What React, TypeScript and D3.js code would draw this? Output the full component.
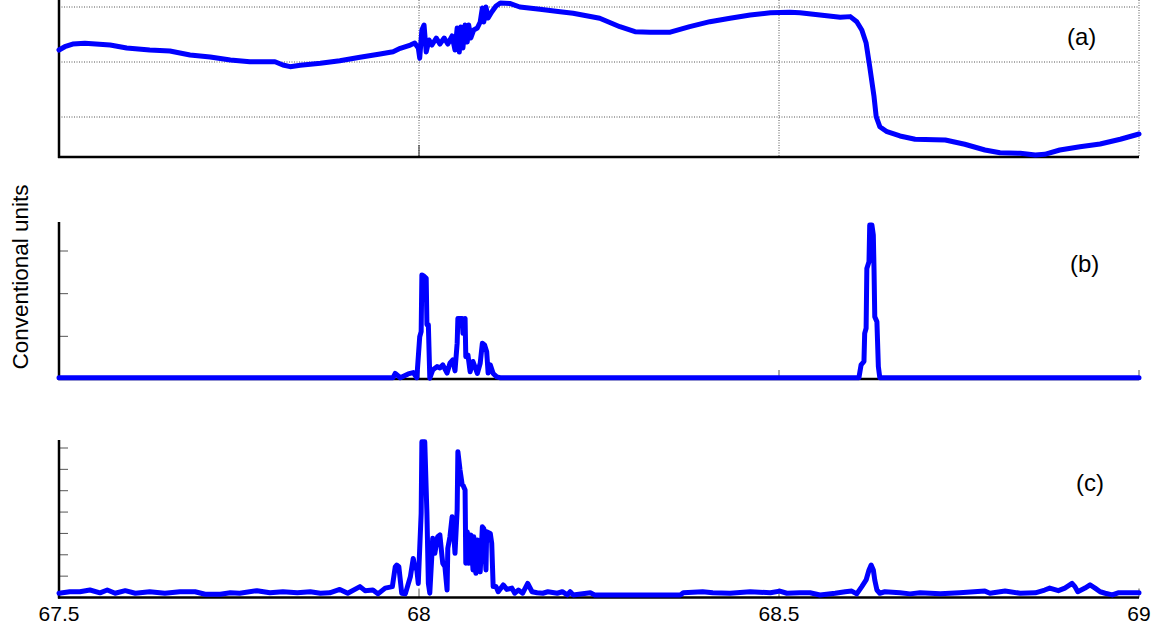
import * as d3 from "d3";
import { useRef, useEffect } from "react";

// panel (a)
const timeA = [67.5, 67.508, 67.519, 67.536, 67.571, 67.594, 67.626, 67.654, 67.682, 67.71, 67.738, 67.765, 67.8, 67.811, 67.821, 67.835, 67.863, 67.89, 67.918, 67.946, 67.964, 67.974, 67.988, 67.994, 67.999, 68.001, 68.004, 68.007, 68.01, 68.014, 68.018, 68.024, 68.029, 68.035, 68.04, 68.046, 68.05, 68.053, 68.056, 68.058, 68.061, 68.064, 68.067, 68.069, 68.072, 68.076, 68.081, 68.085, 68.088, 68.09, 68.093, 68.096, 68.101, 68.107, 68.113, 68.126, 68.14, 68.168, 68.196, 68.214, 68.251, 68.279, 68.3, 68.321, 68.349, 68.376, 68.404, 68.432, 68.46, 68.488, 68.515, 68.529, 68.557, 68.585, 68.599, 68.608, 68.615, 68.621, 68.626, 68.632, 68.635, 68.64, 68.65, 68.668, 68.689, 68.731, 68.758, 68.786, 68.807, 68.835, 68.856, 68.869, 68.89, 68.918, 68.946, 68.974, 69.0];
const valueA = [2.218, 2.278, 2.327, 2.34, 2.309, 2.255, 2.218, 2.2, 2.127, 2.091, 2.036, 2.005, 2.005, 1.945, 1.915, 1.94, 1.976, 2.024, 2.085, 2.145, 2.187, 2.249, 2.309, 2.345, 2.255, 2.07, 2.582, 2.673, 2.182, 2.4, 2.309, 2.436, 2.327, 2.436, 2.327, 2.473, 2.218, 2.618, 2.182, 2.636, 2.255, 2.673, 2.364, 2.673, 2.436, 2.582, 2.618, 2.727, 2.982, 2.727, 3.0, 2.8, 2.909, 3.018, 3.073, 3.064, 3.0, 2.958, 2.915, 2.885, 2.795, 2.642, 2.551, 2.542, 2.542, 2.642, 2.733, 2.795, 2.855, 2.896, 2.904, 2.896, 2.855, 2.813, 2.825, 2.733, 2.582, 2.345, 1.915, 1.369, 1.005, 0.824, 0.733, 0.655, 0.595, 0.582, 0.504, 0.4, 0.351, 0.34, 0.309, 0.322, 0.4, 0.46, 0.509, 0.595, 0.691];

// panel (b)
const timeB = [67.5, 67.964, 67.967, 67.974, 67.985, 67.992, 67.997, 68.001, 68.003, 68.004, 68.007, 68.01, 68.011, 68.013, 68.015, 68.019, 68.025, 68.029, 68.033, 68.039, 68.043, 68.047, 68.05, 68.053, 68.054, 68.06, 68.061, 68.064, 68.065, 68.068, 68.071, 68.075, 68.081, 68.085, 68.088, 68.091, 68.094, 68.096, 68.099, 68.103, 68.108, 68.113, 68.611, 68.614, 68.618, 68.619, 68.621, 68.622, 68.625, 68.626, 68.629, 68.631, 68.632, 68.633, 68.636, 68.638, 68.64, 69.0];
const valueB = [0.03, 0.03, 0.13, 0.03, 0.12, 0.15, 0.03, 0.99, 1.11, 2.44, 2.41, 2.36, 1.27, 1.27, 0.02, 0.21, 0.29, 0.26, 0.33, 0.14, 0.37, 0.45, 0.19, 0.84, 1.42, 1.42, 1.07, 1.42, 0.52, 0.56, 0.17, 0.41, 0.13, 0.37, 0.84, 0.8, 0.64, 0.14, 0.33, 0.13, 0.05, 0.03, 0.03, 0.33, 0.41, 1.07, 1.19, 2.59, 2.75, 3.61, 3.61, 3.37, 2.55, 1.46, 1.34, 0.29, 0.03, 0.03];

// panel (c)
const timeC = [67.5, 67.515, 67.529, 67.543, 67.557, 67.567, 67.578, 67.592, 67.606, 67.626, 67.647, 67.668, 67.689, 67.703, 67.724, 67.738, 67.751, 67.775, 67.793, 67.811, 67.831, 67.849, 67.863, 67.876, 67.89, 67.901, 67.918, 67.925, 67.936, 67.943, 67.953, 67.963, 67.967, 67.969, 67.972, 67.976, 67.981, 67.988, 67.992, 67.994, 67.997, 67.999, 68.003, 68.004, 68.008, 68.011, 68.013, 68.015, 68.018, 68.019, 68.022, 68.025, 68.026, 68.029, 68.032, 68.033, 68.036, 68.039, 68.04, 68.043, 68.046, 68.047, 68.05, 68.053, 68.054, 68.057, 68.06, 68.061, 68.064, 68.065, 68.067, 68.069, 68.072, 68.075, 68.076, 68.079, 68.081, 68.085, 68.088, 68.09, 68.093, 68.094, 68.099, 68.101, 68.103, 68.107, 68.11, 68.117, 68.122, 68.129, 68.133, 68.138, 68.144, 68.151, 68.157, 68.164, 68.172, 68.179, 68.192, 68.199, 68.206, 68.21, 68.214, 68.238, 68.244, 68.269, 68.363, 68.367, 68.394, 68.408, 68.432, 68.46, 68.488, 68.501, 68.511, 68.529, 68.543, 68.557, 68.578, 68.592, 68.601, 68.608, 68.615, 68.621, 68.625, 68.628, 68.631, 68.633, 68.636, 68.64, 68.647, 68.668, 68.682, 68.696, 68.724, 68.751, 68.786, 68.793, 68.814, 68.835, 68.856, 68.869, 68.876, 68.888, 68.897, 68.907, 68.911, 68.915, 68.925, 68.932, 68.939, 68.946, 68.953, 68.963, 68.971, 68.981, 69.0];
const valueC = [0.2, 0.27, 0.27, 0.35, 0.22, 0.35, 0.2, 0.32, 0.2, 0.27, 0.2, 0.27, 0.27, 0.15, 0.15, 0.22, 0.2, 0.32, 0.22, 0.27, 0.22, 0.27, 0.2, 0.22, 0.38, 0.2, 0.51, 0.32, 0.35, 0.17, 0.44, 0.51, 1.44, 1.52, 1.44, 0.2, 0.17, 0.97, 1.83, 1.44, 1.29, 0.66, 3.94, 7.29, 7.29, 3.94, 0.66, 0.2, 2.07, 2.77, 2.07, 2.69, 2.85, 2.93, 1.91, 1.6, 1.44, 0.35, 2.3, 2.85, 3.78, 3.63, 2.07, 4.1, 6.83, 5.97, 5.27, 5.27, 5.03, 1.6, 3.08, 1.6, 2.93, 1.29, 2.85, 1.13, 2.69, 1.2, 3.31, 3.23, 1.29, 3.08, 3.0, 2.54, 0.51, 0.51, 0.27, 0.59, 0.38, 0.44, 0.2, 0.35, 0.2, 0.66, 0.27, 0.22, 0.2, 0.27, 0.2, 0.27, 0.12, 0.27, 0.12, 0.22, 0.12, 0.12, 0.12, 0.22, 0.27, 0.22, 0.2, 0.27, 0.22, 0.3, 0.2, 0.22, 0.22, 0.12, 0.2, 0.27, 0.3, 0.17, 0.51, 0.82, 1.29, 1.52, 1.29, 0.82, 0.35, 0.2, 0.27, 0.22, 0.17, 0.22, 0.17, 0.22, 0.3, 0.2, 0.3, 0.2, 0.22, 0.35, 0.44, 0.32, 0.44, 0.66, 0.51, 0.27, 0.44, 0.59, 0.44, 0.27, 0.2, 0.12, 0.22, 0.22, 0.22];

const xTicks = [67.5, 68, 68.5, 69];
const xTickLabels = ["67.5", "68", "68.5", "69"];
const yTicksA = [1, 2, 3];
const yTicksB = [1, 2, 3];
const yTicksC = [1, 2, 3, 4, 5, 6, 7];
const panelLabels = ["(a)", "(b)", "(c)"];
const yLabel = "Conventional units";

const FONT = "'Liberation Sans', Arial, Helvetica, sans-serif";

export default function App() {
    const ref = useRef<SVGSVGElement | null>(null);

    useEffect(() => {
        const svg = d3.select(ref.current);
        svg.selectAll("*").remove();

        const width = 1156;
        const height = 632;
        svg.attr("width", width).attr("height", height);

        const x = d3.scaleLinear().domain([67.5, 69]).range([59, 1139]);

        const panels = [
            { t: timeA, v: valueA, y: d3.scaleLinear().domain([1, 3]).range([117, 7]), top: 0, bottom: 157, ticks: yTicksA, grid: true, label: panelLabels[0], lx: 1067, ly: 45 },
            { t: timeB, v: valueB, y: d3.scaleLinear().domain([0, 3]).range([379, 251]), top: 222, bottom: 379, ticks: yTicksB, grid: false, label: panelLabels[1], lx: 1070, ly: 272 },
            { t: timeC, v: valueC, y: d3.scaleLinear().domain([0, 7]).range([597.5, 448]), top: 440, bottom: 597.5, ticks: yTicksC, grid: false, label: panelLabels[2], lx: 1076, ly: 491 },
        ];

        panels.forEach((p) => {
            const g = svg.append("g");

            if (p.grid) {
                // dotted grid
                g.selectAll(".hg")
                    .data(p.ticks)
                    .enter()
                    .append("line")
                    .attr("x1", 59)
                    .attr("x2", 1139)
                    .attr("y1", (d) => p.y(d))
                    .attr("y2", (d) => p.y(d))
                    .attr("stroke", "#555")
                    .attr("stroke-width", 1)
                    .attr("stroke-dasharray", "1,1.5");
                g.selectAll(".vg")
                    .data(xTicks.slice(1))
                    .enter()
                    .append("line")
                    .attr("x1", (d) => x(d))
                    .attr("x2", (d) => x(d))
                    .attr("y1", p.top)
                    .attr("y2", p.bottom)
                    .attr("stroke", "#555")
                    .attr("stroke-width", 1)
                    .attr("stroke-dasharray", "1,1.5");
                g.append("line")
                    .attr("x1", x(68))
                    .attr("x2", x(68))
                    .attr("y1", p.bottom - 12)
                    .attr("y2", p.bottom)
                    .attr("stroke", "#222")
                    .attr("stroke-width", 1);
            } else {
                g.selectAll(".yt")
                    .data(p.ticks)
                    .enter()
                    .append("line")
                    .attr("x1", 59)
                    .attr("x2", 68)
                    .attr("y1", (d) => p.y(d))
                    .attr("y2", (d) => p.y(d))
                    .attr("stroke", "#555")
                    .attr("stroke-width", 1);
                g.selectAll(".xt")
                    .data(xTicks.slice(1))
                    .enter()
                    .append("line")
                    .attr("x1", (d) => x(d))
                    .attr("x2", (d) => x(d))
                    .attr("y1", p.bottom - 9)
                    .attr("y2", p.bottom)
                    .attr("stroke", "#555")
                    .attr("stroke-width", 1);
            }

            // axes
            g.append("line")
                .attr("x1", 59).attr("x2", 59)
                .attr("y1", p.top).attr("y2", p.bottom + 1)
                .attr("stroke", "#000").attr("stroke-width", 2.5);
            g.append("line")
                .attr("x1", 58).attr("x2", 1139)
                .attr("y1", p.bottom).attr("y2", p.bottom)
                .attr("stroke", "#000").attr("stroke-width", 2.5);

            const line = d3.line<number>()
                .x((_, i) => x(p.t[i]))
                .y((d) => p.y(d));

            g.append("path")
                .datum(p.v)
                .attr("d", line)
                .attr("fill", "none")
                .attr("stroke", "#0000ff")
                .attr("stroke-width", 5)
                .attr("stroke-linejoin", "round")
                .attr("stroke-linecap", "round");

            g.append("text")
                .attr("x", p.lx)
                .attr("y", p.ly)
                .attr("font-family", FONT)
                .attr("font-size", 24)
                .attr("fill", "#000")
                .text(p.label);
        });

        svg.selectAll(".xl")
            .data(xTicks)
            .enter()
            .append("text")
            .attr("x", (d) => x(d))
            .attr("y", 621)
            .attr("text-anchor", "middle")
            .attr("font-family", FONT)
            .attr("font-size", 21)
            .attr("fill", "#000")
            .text((_, i) => xTickLabels[i]);

        svg.append("text")
            .attr("transform", "translate(28,277) rotate(-90)")
            .attr("text-anchor", "middle")
            .attr("font-family", FONT)
            .attr("font-size", 22.5)
            .attr("fill", "#000")
            .text(yLabel);
    }, []);

    return <svg ref={ref} style={{ position: "absolute", left: 0, top: 0, background: "#fff" }}></svg>;
}
